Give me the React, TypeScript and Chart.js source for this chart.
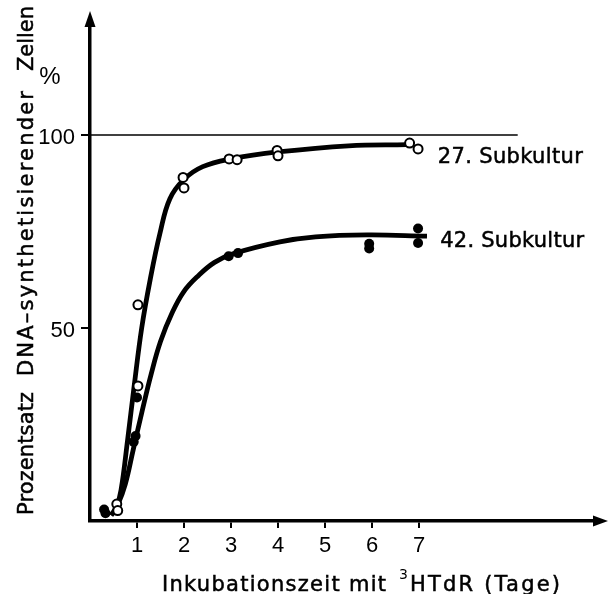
import { useEffect, useRef } from "react";
import { Chart, registerables } from "chart.js";
Chart.register(...registerables);

// ---- data ----
const xTickValues = [1, 2, 3, 4, 5, 6, 7];
const yTickValues = [50, 100];
const seriesNames = ["27. Subkultur", "42. Subkultur"];

// fitted curve, 27. Subkultur
const curve27X = [0.45, 0.55, 0.66, 0.8, 0.94, 1.1, 1.28, 1.49, 1.7, 2.0, 2.4, 3.0, 4.0, 5.5, 6.74];
const curve27Y = [1.5, 3, 8, 21, 35, 50, 62.5, 74.6, 83.5, 88.5, 91.8, 93.8, 95.6, 97.2, 97.5];
// fitted curve, 42. Subkultur
const curve42X = [0.45, 0.6, 0.75, 0.92, 1.1, 1.3, 1.5, 1.75, 2.0, 2.3, 2.65, 3.04, 4.04, 4.8, 5.9, 7.17];
const curve42Y = [1.5, 4.5, 9.5, 18.5, 28, 38, 46.5, 54, 59.5, 63.5, 67, 69.2, 72.3, 73.6, 74.1, 73.8];

// measured points, 27. Subkultur (open circles)
const obs27X = [0.57, 0.59, 1.02, 1.02, 1.98, 2.0, 2.96, 3.13, 3.98, 4.0, 6.8, 6.98];
const obs27Y = [4.4, 2.7, 56, 35, 89, 86.3, 93.8, 93.6, 96, 94.6, 97.9, 96.4];
// measured points, 42. Subkultur (filled circles)
const obs42X = [0.3, 0.33, 1.0, 0.93, 0.97, 2.95, 3.15, 5.94, 5.94, 6.98, 6.98];
const obs42Y = [3, 2, 32, 20.5, 22, 68.6, 69.4, 70.6, 71.8, 75.8, 72];

// 100 % reference line
const refX = [0, 9.1];
const refY = [100, 100];

const FONT = "'Liberation Sans', Arial, sans-serif";
const TFONT = "'DejaVu Sans', 'Liberation Sans', sans-serif";

const pts = (xs: number[], ys: number[]) => xs.map((x, i) => ({ x, y: ys[i] }));

// draws text so that it spans width w, by adjusting the letter spacing
function fitText(ctx: CanvasRenderingContext2D, text: string, x: number, y: number, w: number) {
  const c: any = ctx;
  ctx.save();
  const hasLS = "letterSpacing" in c;
  if (hasLS) c.letterSpacing = "0px";
  const m = ctx.measureText(text).width;
  const n = [...text].length;
  ctx.translate(x, y);
  if (hasLS && n > 1) {
    c.letterSpacing = `${(w - m) / (n - 1)}px`;
  } else {
    ctx.scale(w / m, 1);
  }
  ctx.lineWidth = 0.5;
  ctx.strokeStyle = "#000";
  ctx.fillText(text, 0, 0);
  ctx.strokeText(text, 0, 0);
  ctx.restore();
}

const decorPlugin = {
  id: "decor",
  afterDraw(chart: any) {
    const ctx: CanvasRenderingContext2D = chart.ctx;
    const { left, bottom } = chart.chartArea;
    const xs = chart.scales.x;
    const ys = chart.scales.y;
    ctx.save();
    ctx.fillStyle = "#000";
    // arrowheads
    ctx.beginPath();
    ctx.moveTo(left, 11);
    ctx.lineTo(left + 5.5, 27);
    ctx.lineTo(left - 5.5, 27);
    ctx.closePath();
    ctx.fill();
    ctx.beginPath();
    ctx.moveTo(608, bottom);
    ctx.lineTo(593, bottom - 5.5);
    ctx.lineTo(593, bottom + 5.5);
    ctx.closePath();
    ctx.fill();

    // series labels
    ctx.textBaseline = "alphabetic";
    ctx.textAlign = "left";
    ctx.font = `21px ${TFONT}`;
    fitText(ctx, seriesNames[0], xs.getPixelForValue(7.4), ys.getPixelForValue(92.7), 145);
    fitText(ctx, seriesNames[1], xs.getPixelForValue(7.45), ys.getPixelForValue(71), 144);

    // percent sign
    ctx.font = `24px ${FONT}`;
    ctx.textAlign = "center";
    ctx.textBaseline = "middle";
    ctx.fillText("%", 50, 77);

    // y axis title (rotated)
    ctx.textAlign = "left";
    ctx.textBaseline = "alphabetic";
    ctx.font = `21px ${TFONT}`;
    const rot = (text: string, y0: number, len: number) => {
      ctx.save();
      ctx.translate(33, y0);
      ctx.rotate(-Math.PI / 2);
      fitText(ctx, text, 0, 0, len);
      ctx.restore();
    };
    rot("Prozentsatz", 515, 123);
    rot("DNA–synthetisierender", 376, 285);
    rot("Zellen", 71, 65);

    // x axis title
    ctx.font = `21px ${TFONT}`;
    fitText(ctx, "Inkubationszeit mit", 162, 591, 224);
    ctx.font = `14px ${TFONT}`;
    ctx.fillText("3", 399, 579);
    ctx.font = `21px ${TFONT}`;
    fitText(ctx, "HTdR (Tage)", 410, 591, 150);
    ctx.restore();
  },
};

export default function App() {
  const ref = useRef<HTMLCanvasElement>(null);
  useEffect(() => {
    if (!ref.current) return;
    const chart = new Chart(ref.current, {
      type: "scatter",
      data: {
        datasets: [
          {
            label: "100 %",
            data: pts(refX, refY),
            showLine: true,
            borderColor: "#000",
            borderWidth: 1.3,
            pointRadius: 0,
            order: 3,
          },
          {
            label: seriesNames[0] + " Kurve",
            data: pts(curve27X, curve27Y),
            showLine: true,
            borderColor: "#000",
            borderWidth: 4.8,
            pointRadius: 0,
            tension: 0.4,
            order: 2,
          },
          {
            label: seriesNames[1] + " Kurve",
            data: pts(curve42X, curve42Y),
            showLine: true,
            borderColor: "#000",
            borderWidth: 4.8,
            pointRadius: 0,
            tension: 0.4,
            order: 2,
          },
          {
            label: seriesNames[0],
            data: pts(obs27X, obs27Y),
            pointRadius: 4.5,
            pointBorderWidth: 2,
            pointBackgroundColor: "#fff",
            pointBorderColor: "#000",
            order: 0,
          },
          {
            label: seriesNames[1],
            data: pts(obs42X, obs42Y),
            pointRadius: 5,
            pointBorderWidth: 0,
            pointBackgroundColor: "#000",
            pointBorderColor: "#000",
            order: 0,
          },
        ] as any,
      },
      options: {
        responsive: false,
        animation: false,
        layout: { padding: { left: 0, top: 19, right: 9, bottom: 0 } },
        plugins: { legend: { display: false }, tooltip: { enabled: false } },
        scales: {
          x: {
            type: "linear",
            min: 0,
            max: 510 / 47,
            afterBuildTicks: (axis: any) => {
              axis.ticks = xTickValues.map((v) => ({ value: v }));
            },
            afterFit: (axis: any) => {
              axis.height = 73;
            },
            border: { display: true, color: "#000", width: 3.5 },
            grid: { drawOnChartArea: false, drawTicks: true, tickLength: 7, color: "#000", lineWidth: 2 },
            ticks: { color: "#000", font: { family: FONT, size: 22 }, padding: 5, maxRotation: 0, autoSkip: false },
          },
          y: {
            type: "linear",
            min: 0,
            max: 130,
            afterBuildTicks: (axis: any) => {
              axis.ticks = yTickValues.map((v) => ({ value: v }));
            },
            afterFit: (axis: any) => {
              axis.width = 90;
            },
            border: { display: true, color: "#000", width: 3.5 },
            grid: { drawOnChartArea: false, drawTicks: true, tickLength: 9, color: "#000", lineWidth: 2 },
            ticks: { color: "#000", font: { family: FONT, size: 22 }, padding: 6, labelOffset: 3 },
          },
        },
      },
      plugins: [decorPlugin],
    } as any);
    return () => chart.destroy();
  }, []);
  return (
    <div style={{ position: "fixed", left: 0, top: 0, width: 609, height: 594, background: "#fff" }}>
      <canvas ref={ref} width={609} height={594} style={{ display: "block" }} />
    </div>
  );
}
